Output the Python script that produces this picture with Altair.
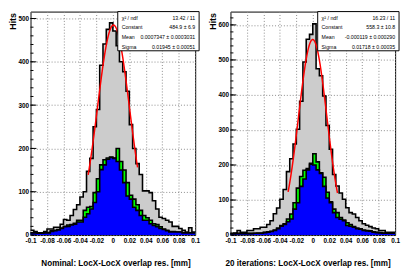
import altair as alt
import pandas as pd
import numpy as np

# ---------------- data ----------------
X_MIN, X_MAX, N_BINS = -0.1, 0.1, 50
x_ticks = [-0.1, -0.08, -0.06, -0.04, -0.02, 0, 0.02, 0.04, 0.06, 0.08, 0.1]
nominal_y_ticks = [0, 100, 200, 300, 400, 500]
iter_y_ticks = [0, 100, 200, 300, 400, 500, 600]

nominal_total = [11, 8, 5, 5, 8, 14, 14, 18, 18, 25, 36, 34, 45, 59, 70, 88, 100, 147, 177, 250,
                 290, 392, 441, 475, 490, 471, 437, 400, 377, 332, 255, 200, 165, 140, 102, 102, 98, 79, 60, 41,
                 38, 34, 30, 20, 20, 15, 11, 7, 17, 7]
nominal_green = [5, 5, 5, 5, 5, 6, 10, 11, 13, 16, 20, 23, 24, 27, 34, 34, 57, 64, 66, 98,
                 130, 162, 174, 178, 180, 178, 200, 170, 150, 121, 92, 83, 70, 57, 45, 40, 34, 26, 24, 19,
                 14, 11, 8, 8, 7, 7, 6, 5, 5, 5]
nominal_blue = [5, 5, 4, 4, 5, 5, 8, 10, 12, 15, 19, 20, 23, 25, 30, 30, 41, 49, 60, 75,
                100, 151, 162, 175, 179, 177, 170, 150, 121, 90, 83, 64, 57, 45, 34, 34, 26, 22, 19, 15,
                13, 10, 7, 7, 7, 7, 5, 5, 5, 5]

iter_total = [4, 6, 13, 8, 8, 13, 13, 18, 18, 22, 22, 30, 41, 61, 77, 102, 130, 181, 218, 260,
              302, 382, 494, 559, 573, 603, 475, 455, 397, 313, 245, 173, 140, 120, 102, 78, 64, 60, 50, 41,
              32, 28, 24, 20, 18, 13, 13, 8, 8, 8]
iter_green = [4, 4, 5, 5, 5, 5, 5, 5, 6, 6, 8, 9, 11, 14, 20, 27, 32, 46, 60, 92,
              134, 167, 185, 190, 205, 232, 209, 178, 165, 122, 95, 74, 64, 50, 43, 35, 30, 24, 20, 18,
              14, 13, 12, 9, 8, 7, 6, 5, 5, 5]
iter_blue = [4, 4, 4, 4, 4, 4, 4, 5, 5, 5, 7, 8, 10, 13, 18, 25, 30, 38, 46, 74,
             92, 139, 160, 186, 202, 200, 186, 176, 139, 106, 92, 64, 50, 45, 41, 27, 25, 22, 18, 17,
             13, 12, 11, 8, 7, 6, 5, 5, 5, 5]

# Gaussian fit parameters shown in the stats boxes (constant, mean, sigma), fit range
nominal_fit = (484.9, 0.0007347, 0.01945)
iter_fit = (558.3, -0.000119, 0.01718)
fit_range = (-0.03, 0.03)

stat_labels = ["\u03c7\u00b2 / ndf", "Constant", "Mean", "Sigma"]
nominal_stats = ["13.42 / 11", "484.9 \u00b1 6.9", "0.0007347 \u00b1 0.0003031", "0.01945 \u00b1 0.00051"]
iter_stats = ["16.23 / 11", "558.3 \u00b1 10.8", "-0.000119 \u00b1 0.000290", "0.01718 \u00b1 0.00035"]

nominal_title = "Nominal: LocX-LocX overlap res. [mm]"
iter_title = "20 iterations: LocX-LocX overlap res. [mm]"

# ---------------- styling ----------------
W, H = 168, 228
FONT = "Liberation Sans"
GRAY, GREEN, BLUE, RED = "#cccccc", "#00ff00", "#0000ff", "#ff0000"


def step_frame(vals):
    edges = np.linspace(X_MIN, X_MAX, N_BINS + 1)
    return pd.DataFrame({"x": edges, "y": list(vals) + [vals[-1]]})


def panel(total, green, blue, fit, y_max, y_ticks, stats, title):
    xs = alt.Scale(domain=[X_MIN, X_MAX], nice=False, zero=False)
    ys = alt.Scale(domain=[0, y_max], nice=False, zero=True)
    xaxis = alt.Axis(values=x_ticks, labelExpr="replace(format(datum.value, '.2~f'), '\u2212', '-')",
                     grid=True, gridDash=[1, 2], gridColor="#8a8a8a", gridWidth=1,
                     ticks=False, domain=False, labelFont=FONT, labelFontWeight="bold",
                     labelFontSize=6.5, labelPadding=3, labelOverlap=False, labelFlush=False,
                     labelColor="black", title=title, titleFont=FONT, titleFontWeight="bold",
                     titleFontSize=8.3, titleColor="black", titleAnchor="end", titleAlign="right",
                     titleX=W - 5, titleY=31, titleBaseline="alphabetic")
    yaxis = alt.Axis(values=y_ticks, grid=True, gridDash=[1, 2], gridColor="#8a8a8a", gridWidth=1,
                     ticks=False, domain=False, labelFont=FONT, labelFontWeight="bold",
                     labelFontSize=6.5, labelPadding=2, labelColor="black",
                     title="Hits", titleFont=FONT, titleFontWeight="bold", titleFontSize=9,
                     titleColor="black", titleAngle=270, titleAlign="right", titleBaseline="middle",
                     titleX=-18, titleY=1)

    def X(field="x"):
        return alt.X(f"{field}:Q", scale=xs, axis=xaxis)

    def Y(field="y"):
        return alt.Y(f"{field}:Q", scale=ys, axis=yaxis)

    layers = []
    for vals, col in [(total, GRAY), (green, GREEN), (blue, BLUE)]:
        df = step_frame(vals)
        layers.append(alt.Chart(df).mark_area(interpolate="step-after", color=col)
                      .encode(x=X(), y=Y()))
        layers.append(alt.Chart(df).mark_line(interpolate="step-after", color="black",
                                               strokeWidth=1.6).encode(x=X(), y=Y()))

    c, m, s = fit
    fit_chart = (alt.Chart(alt.sequence(fit_range[0], fit_range[1] + 1e-6, 0.0005, as_="x"))
                 .transform_calculate(y=f"{c}*exp(-0.5*pow((datum.x-({m}))/{s},2))")
                 .mark_line(color=RED, strokeWidth=1.5)
                 .encode(x=X(), y=Y()))
    layers.append(fit_chart)

    # inner ticks on the left axis (ROOT style)
    minor = pd.DataFrame({"y": list(range(0, int(y_max) + 1, 20))})
    major = pd.DataFrame({"y": y_ticks})
    layers.append(alt.Chart(minor).mark_rule(color="black", strokeWidth=1)
                  .encode(y=Y(), x=alt.value(0), x2=alt.value(3)))
    layers.append(alt.Chart(major).mark_rule(color="black", strokeWidth=1)
                  .encode(y=Y(), x=alt.value(0), x2=alt.value(6)))

    # stats box
    one = pd.DataFrame({"a": [0]})
    layers.append(alt.Chart(one).mark_rect(fill="white", stroke="black", strokeWidth=1)
                  .encode(x=alt.value(89), x2=alt.value(172), y=alt.value(0), y2=alt.value(40)))
    for i in range(4):
        ydf = pd.DataFrame({"label": [stat_labels[i]], "val": [stats[i]]})
        yy = 6.3 + i * 9.8
        layers.append(alt.Chart(ydf).mark_text(align="left", baseline="middle", font=FONT,
                                                fontSize=5.3, color="black")
                      .encode(text="label:N", x=alt.value(93), y=alt.value(yy)))
        layers.append(alt.Chart(ydf).mark_text(align="right", baseline="middle", font=FONT,
                                                fontSize=5.3, color="black")
                      .encode(text="val:N", x=alt.value(168), y=alt.value(yy)))

    return alt.layer(*layers).properties(width=W, height=H)


left = panel(nominal_total, nominal_green, nominal_blue, nominal_fit, 516, nominal_y_ticks,
             nominal_stats, nominal_title)
right = panel(iter_total, iter_green, iter_blue, iter_fit, 638, iter_y_ticks,
              iter_stats, iter_title)

chart = (alt.hconcat(left, right, spacing=36)
         .properties(bounds="flush", padding={"left": 0, "top": 0, "right": 0, "bottom": 0},
                     background="white")
         .configure_view(stroke="black", strokeWidth=1))

chart.save("out.html", embed_options={"renderer": "svg", "actions": False})
